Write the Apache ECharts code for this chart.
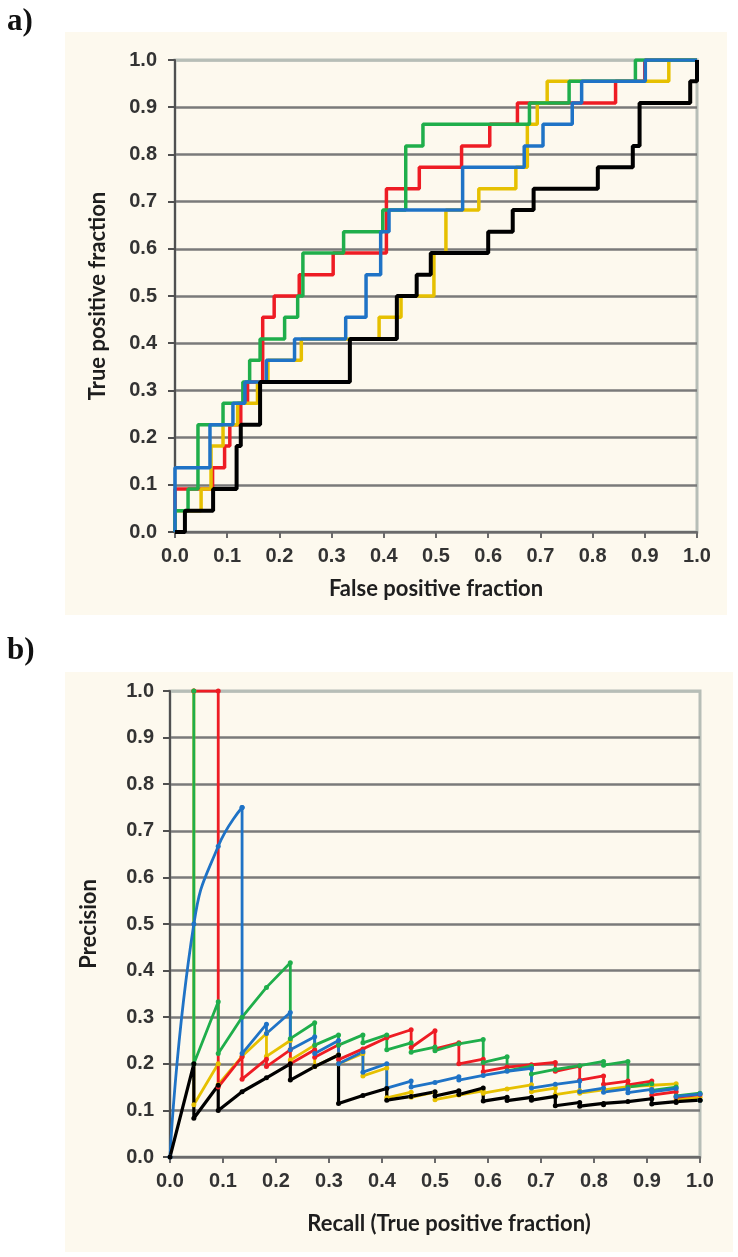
<!DOCTYPE html>
<html>
<head>
<meta charset="utf-8">
<script src="https://cdn.jsdelivr.net/npm/echarts@6/dist/echarts.min.js"></script>
<style>
  html, body { margin: 0; padding: 0; background: #ffffff; }
  #chart { width: 738px; height: 1257px; }
</style>
</head>
<body>
<div id="chart"></div>
<script>
// ---------- Tick labels ----------
const tickValues = [0, 0.1, 0.2, 0.3, 0.4, 0.5, 0.6, 0.7, 0.8, 0.9, 1.0];

// ---------- a) ROC curves: [false positive fraction, true positive fraction] ----------
const rocRed = [[0,0],[0,0.091],[0.072,0.091],[0.072,0.136],[0.095,0.136],[0.095,0.182],[0.105,0.182],[0.105,0.227],[0.126,0.227],[0.126,0.273],[0.139,0.273],[0.139,0.318],[0.168,0.318],[0.168,0.455],[0.19,0.455],[0.19,0.5],[0.238,0.5],[0.238,0.545],[0.303,0.545],[0.303,0.591],[0.405,0.591],[0.405,0.727],[0.468,0.727],[0.468,0.773],[0.549,0.773],[0.549,0.818],[0.603,0.818],[0.603,0.864],[0.656,0.864],[0.656,0.909],[0.844,0.909],[0.844,0.955],[0.9,0.955],[0.9,1],[1,1]];
const rocYellow = [[0,0],[0,0.045],[0.05,0.045],[0.05,0.091],[0.069,0.091],[0.069,0.182],[0.092,0.182],[0.092,0.227],[0.12,0.227],[0.12,0.273],[0.158,0.273],[0.158,0.318],[0.178,0.318],[0.178,0.364],[0.242,0.364],[0.242,0.409],[0.391,0.409],[0.391,0.455],[0.433,0.455],[0.433,0.5],[0.496,0.5],[0.496,0.591],[0.519,0.591],[0.519,0.682],[0.582,0.682],[0.582,0.727],[0.653,0.727],[0.653,0.773],[0.675,0.773],[0.675,0.864],[0.694,0.864],[0.694,0.909],[0.713,0.909],[0.713,0.955],[0.946,0.955],[0.946,1],[1,1]];
const rocGreen = [[0,0],[0,0.045],[0.025,0.045],[0.025,0.091],[0.044,0.091],[0.044,0.227],[0.092,0.227],[0.092,0.273],[0.13,0.273],[0.13,0.318],[0.143,0.318],[0.143,0.364],[0.163,0.364],[0.163,0.409],[0.21,0.409],[0.21,0.455],[0.235,0.455],[0.235,0.5],[0.245,0.5],[0.245,0.591],[0.323,0.591],[0.323,0.636],[0.398,0.636],[0.398,0.682],[0.442,0.682],[0.442,0.818],[0.475,0.818],[0.475,0.864],[0.679,0.864],[0.679,0.909],[0.755,0.909],[0.755,0.955],[0.882,0.955],[0.882,1],[1,1]];
const rocBlue = [[0,0],[0,0.136],[0.067,0.136],[0.067,0.227],[0.111,0.227],[0.111,0.273],[0.134,0.273],[0.134,0.318],[0.175,0.318],[0.175,0.364],[0.229,0.364],[0.229,0.409],[0.327,0.409],[0.327,0.455],[0.366,0.455],[0.366,0.545],[0.394,0.545],[0.394,0.636],[0.41,0.636],[0.41,0.682],[0.551,0.682],[0.551,0.773],[0.669,0.773],[0.669,0.818],[0.705,0.818],[0.705,0.864],[0.761,0.864],[0.761,0.909],[0.779,0.909],[0.779,0.955],[0.901,0.955],[0.901,1],[1,1]];
const rocBlack = [[0,0],[0.019,0],[0.019,0.045],[0.073,0.045],[0.073,0.091],[0.118,0.091],[0.118,0.182],[0.126,0.182],[0.126,0.227],[0.163,0.227],[0.163,0.318],[0.335,0.318],[0.335,0.409],[0.425,0.409],[0.425,0.5],[0.463,0.5],[0.463,0.545],[0.49,0.545],[0.49,0.591],[0.6,0.591],[0.6,0.636],[0.647,0.636],[0.647,0.682],[0.687,0.682],[0.687,0.727],[0.81,0.727],[0.81,0.773],[0.877,0.773],[0.877,0.818],[0.89,0.818],[0.89,0.909],[0.987,0.909],[0.987,0.955],[1,0.955],[1,1]];

// ---------- b) Precision-recall curves: [recall, precision] ----------
const prYellow = [[0.045,1],[0.045,0.112],[0.091,0.2],[0.091,0.155],[0.136,0.216],[0.182,0.265],[0.182,0.216],[0.227,0.25],[0.227,0.208],[0.273,0.24],[0.273,0.194],[0.318,0.219],[0.318,0.2],[0.364,0.222],[0.364,0.174],[0.409,0.191],[0.409,0.127],[0.455,0.139],[0.455,0.128],[0.5,0.139],[0.5,0.123],[0.545,0.133],[0.591,0.142],[0.591,0.137],[0.636,0.146],[0.682,0.155],[0.682,0.14],[0.727,0.148],[0.727,0.134],[0.773,0.142],[0.773,0.137],[0.818,0.144],[0.864,0.151],[0.864,0.148],[0.909,0.154],[0.909,0.151],[0.955,0.157],[0.955,0.123],[1,0.128],[1,0.122]];
const prRed = [[0.045,1],[0.091,1],[0.091,0.15],[0.136,0.215],[0.136,0.167],[0.182,0.21],[0.182,0.194],[0.227,0.23],[0.227,0.2],[0.273,0.23],[0.273,0.214],[0.318,0.241],[0.318,0.209],[0.364,0.232],[0.409,0.256],[0.455,0.273],[0.455,0.235],[0.5,0.271],[0.5,0.232],[0.545,0.245],[0.545,0.2],[0.591,0.21],[0.591,0.183],[0.636,0.193],[0.682,0.198],[0.727,0.203],[0.727,0.184],[0.773,0.195],[0.773,0.165],[0.818,0.174],[0.818,0.156],[0.864,0.163],[0.864,0.155],[0.909,0.163],[0.909,0.133],[0.955,0.14],[0.955,0.128],[1,0.134],[1,0.122]];
const prGreen = [[0.045,1],[0.045,0.2],[0.091,0.333],[0.091,0.222],[0.136,0.3],[0.182,0.364],[0.227,0.417],[0.227,0.254],[0.273,0.288],[0.273,0.24],[0.318,0.262],[0.318,0.24],[0.364,0.262],[0.364,0.245],[0.409,0.262],[0.409,0.23],[0.455,0.245],[0.455,0.225],[0.5,0.236],[0.5,0.228],[0.545,0.243],[0.591,0.252],[0.591,0.203],[0.636,0.215],[0.636,0.185],[0.682,0.195],[0.682,0.178],[0.727,0.188],[0.773,0.196],[0.818,0.205],[0.818,0.197],[0.864,0.205],[0.864,0.15],[0.909,0.157],[0.909,0.143],[0.955,0.15],[0.955,0.131],[1,0.137],[1,0.122]];
const prBlue = [[0,0],[0.045,0.5],[0.091,0.667],[0.136,0.75],[0.136,0.222],[0.182,0.285],[0.182,0.265],[0.227,0.31],[0.227,0.23],[0.273,0.258],[0.273,0.222],[0.318,0.25],[0.318,0.2],[0.364,0.226],[0.364,0.182],[0.409,0.2],[0.409,0.148],[0.455,0.163],[0.455,0.15],[0.5,0.16],[0.545,0.172],[0.545,0.165],[0.591,0.175],[0.636,0.184],[0.682,0.19],[0.682,0.148],[0.727,0.156],[0.773,0.163],[0.773,0.14],[0.818,0.148],[0.818,0.139],[0.864,0.146],[0.864,0.138],[0.909,0.145],[0.909,0.14],[0.955,0.147],[0.955,0.13],[1,0.135],[1,0.122]];
const prBlack = [[0,0],[0.045,0.2],[0.045,0.083],[0.091,0.154],[0.091,0.1],[0.136,0.14],[0.182,0.17],[0.227,0.2],[0.227,0.165],[0.273,0.194],[0.318,0.219],[0.318,0.115],[0.364,0.132],[0.409,0.147],[0.409,0.122],[0.455,0.13],[0.5,0.14],[0.5,0.131],[0.545,0.142],[0.545,0.134],[0.591,0.148],[0.591,0.12],[0.636,0.128],[0.636,0.121],[0.682,0.128],[0.682,0.122],[0.727,0.13],[0.727,0.11],[0.773,0.117],[0.773,0.109],[0.818,0.115],[0.818,0.112],[0.864,0.119],[0.909,0.125],[0.909,0.114],[0.955,0.119],[0.955,0.117],[1,0.122]];

// ---------- styling ----------
const C = { red: '#ee1c24', yellow: '#e6c000', green: '#1fae4b', blue: '#1f73c6', black: '#000000' };
const BEIGE = '#fdf9ee';
const GRID_DARK = '#7a7a7a';
const BORDER_LIGHT = '#b7beb7';
const numFont = { fontFamily: 'Liberation Sans', fontWeight: 'bold', fontSize: 20, color: '#333333' };
const nameFont = { fontFamily: 'Lato', fontWeight: 'bold', fontSize: 22, color: '#1e1e1e' };

function xAxisFor(gridIndex, name, nameGap, labelMargin, namePad) {
  return {
    type: 'value', gridIndex, min: 0, max: 1, interval: 0.1,
    name, nameLocation: 'middle', nameGap,
    nameTextStyle: Object.assign({ padding: namePad }, nameFont),
    axisLine: { show: true, lineStyle: { color: '#6a6a6a', width: 2 } },
    axisTick: { show: true, inside: false, length: 6, lineStyle: { color: '#6a6a6a', width: 2 } },
    axisLabel: Object.assign({ margin: labelMargin, formatter: v => v.toFixed(1) }, numFont),
    splitLine: { show: false }
  };
}
function yAxisFor(gridIndex, name, nameGap, labelMargin) {
  const splitColors = tickValues.map((v, i) => i === tickValues.length - 1 ? BORDER_LIGHT : GRID_DARK);
  return {
    type: 'value', gridIndex, min: 0, max: 1, interval: 0.1,
    name, nameLocation: 'middle', nameGap, nameRotate: 90,
    nameTextStyle: nameFont,
    axisLine: { show: true, onZero: false, lineStyle: { color: '#505050', width: 2 } },
    axisTick: { show: true, inside: false, length: 7, lineStyle: { color: '#505050', width: 2 } },
    axisLabel: Object.assign({ margin: labelMargin, formatter: v => v.toFixed(1) }, numFont),
    splitLine: { show: true, lineStyle: { color: splitColors, width: 2.5 } }
  };
}
function rocSeries(data, color, width) {
  return { type: 'line', xAxisIndex: 0, yAxisIndex: 0, data, showSymbol: false, symbol: 'none',
    lineStyle: { color, width: width || 3.5 }, itemStyle: { color }, silent: true };
}
function prSeries(data, color, width, smooth) {
  return { type: 'line', xAxisIndex: 1, yAxisIndex: 1, data, smooth: !!smooth,
    symbol: 'circle', symbolSize: 5, showSymbol: true,
    lineStyle: { color, width: width || 2.8 }, itemStyle: { color }, silent: true };
}

const option = {
  animation: false,
  backgroundColor: '#ffffff',
  graphic: [
    { type: 'rect', z: -100, shape: { x: 65, y: 32, width: 662, height: 583 }, style: { fill: BEIGE } },
    { type: 'rect', z: -100, shape: { x: 65, y: 672, width: 668, height: 580 }, style: { fill: BEIGE } },
    { type: 'text', left: 7, top: 6, style: { text: 'a)', fontSize: 31, fontWeight: 'bold', fontFamily: 'Liberation Serif', fill: '#111111' } },
    { type: 'text', left: 7, top: 635, style: { text: 'b)', fontSize: 31, fontWeight: 'bold', fontFamily: 'Liberation Serif', fill: '#111111' } }
  ],
  grid: [
    { left: 175, top: 60, width: 522, height: 472, show: true, borderColor: BORDER_LIGHT, borderWidth: 3, backgroundColor: 'transparent' },
    { left: 170, top: 691, width: 530, height: 466, show: true, borderColor: BORDER_LIGHT, borderWidth: 3, backgroundColor: 'transparent' }
  ],
  xAxis: [
    xAxisFor(0, 'False positive fraction', 46, 14, [0, 0, 0, 0]),
    xAxisFor(1, 'Recall (True positive fraction)', 56, 14, [0, 0, 0, 28])
  ],
  yAxis: [
    yAxisFor(0, 'True positive fraction', 66, 18),
    yAxisFor(1, 'Precision', 70, 16)
  ],
  series: [
    rocSeries(rocRed, C.red),
    rocSeries(rocYellow, C.yellow),
    rocSeries(rocGreen, C.green),
    rocSeries(rocBlue, C.blue),
    rocSeries(rocBlack, C.black, 4),
    prSeries(prYellow, C.yellow),
    prSeries(prRed, C.red),
    prSeries(prGreen, C.green),
    prSeries(prBlue.slice(0, 4), C.blue, 2.8, true),
    prSeries(prBlue.slice(3), C.blue),
    prSeries(prBlack, C.black, 3.2)
  ]
};

const chart = echarts.init(document.getElementById('chart'), null, { renderer: 'canvas' });
chart.setOption(option);
</script>
</body>
</html>
